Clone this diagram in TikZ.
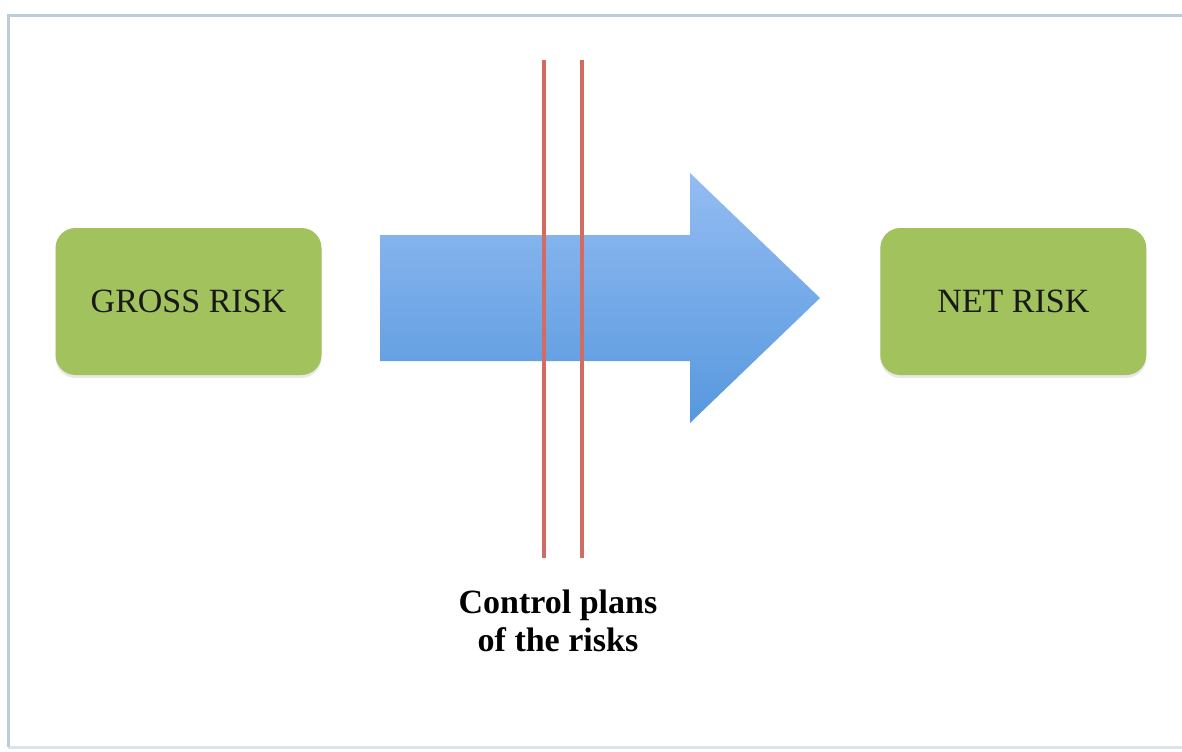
\documentclass[tikz,border=0pt]{standalone}
\usepackage{fontspec}
\setmainfont{Liberation Serif}
\usetikzlibrary{calc,positioning,shadows}
\definecolor{lg}{RGB}{162,194,94}
\definecolor{frameblue}{RGB}{188,204,216}
\definecolor{framelight}{RGB}{218,228,234}
\definecolor{ctrlred}{RGB}{210,108,98}
\definecolor{arrtop}{RGB}{148,188,242}
\definecolor{arrbot}{RGB}{86,152,222}
\tikzstyle{riskbox} = [rounded corners=10pt, fill=lg, minimum width=133pt,
  minimum height=73.5pt, inner sep=0, text=black!90,
  font=\fontsize{17}{19}\selectfont,
  drop shadow={opacity=0.18, shadow xshift=0pt, shadow yshift=-1.5pt}]
\tikzstyle{ctrlline} = [line width=2pt, draw=ctrlred]

\begin{document}
\begin{tikzpicture}[x=0.5pt, y=-0.5pt]
    \useasboundingbox (0,0) rectangle (1182,751);
    \draw[framelight, line width=1.5pt] (8,747) -- (1186,747);
    \draw[frameblue, line width=1.5pt] (8,747) -- (8,15) -- (1186,15);

    \node[riskbox] (gross) at (188.5,301.5) {GROSS RISK};
    \node[riskbox, right = 279pt of gross] (net) {NET RISK};

    % big arrow between the boxes
    \coordinate (tail) at (380,298);
    \coordinate (tip) at (820,298);
    \shade[top color=arrtop, bottom color=arrbot]
      ($(tail)+(0,-63)$) -- (690,235) -- (690,173) -- (tip) -- (690,423)
      -- (690,361) -- ($(tail)+(0,63)$) -- cycle;

    \coordinate (l1top) at (544,60);
    \coordinate (l1bot) at (544,558);
    \coordinate (l2top) at (582,60);
    \coordinate (l2bot) at (582,558);
    \draw[ctrlline] (l1top) -- (l1bot);
    \draw[ctrlline] (l2top) -- (l2bot);

    \node[align=center, font=\bfseries\fontsize{17}{19}\selectfont]
    (ctrl) at (558,621) {Control plans\\of the risks};

  \end{tikzpicture}
\end{document}
